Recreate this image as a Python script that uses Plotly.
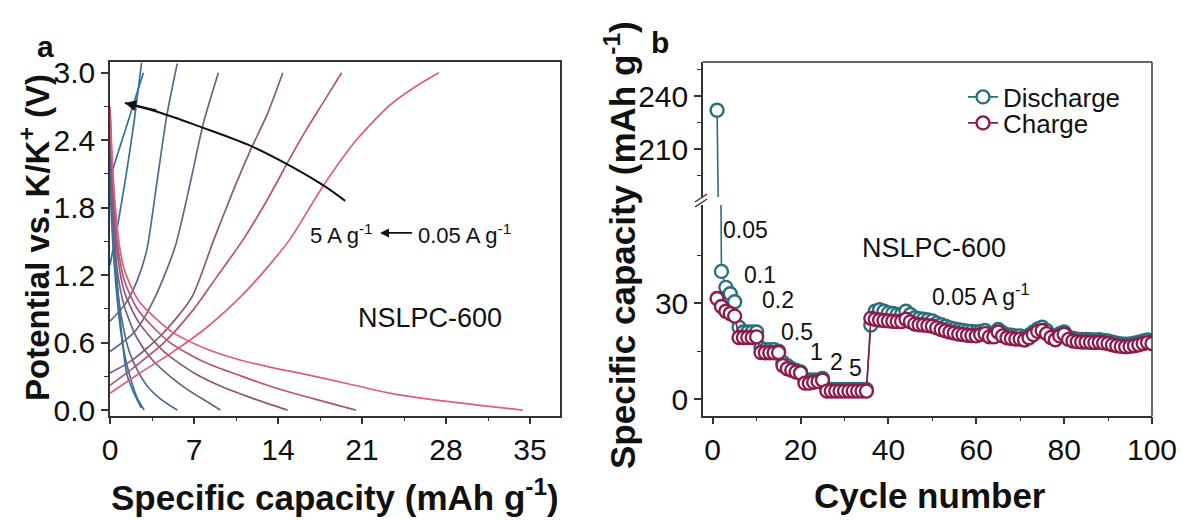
import plotly.graph_objects as go

W, H = 1182, 520
FONT = "Liberation Sans, Arial, sans-serif"

# ---------------- Panel a: charge/discharge profiles ----------------
rates = ["5", "2", "1", "0.5", "0.2", "0.1", "0.05"]
curve_colors = ["#2f72a3", "#3a6f9a", "#4f6c8f", "#6a6482", "#8c5877", "#b65273", "#e05c7d"]

# discharge curves (capacity, potential)
dis_x_5 = [0, 0.3, 0.7, 1.1, 1.4, 2.0, 2.6]
dis_y_5 = [2.05, 1.6, 1.0, 0.55, 0.32, 0.15, 0.02]
dis_x_2 = [0, 0.2, 0.5, 0.9, 1.3, 1.8, 2.3, 2.85]
dis_y_2 = [2.0, 1.55, 1.1, 0.7, 0.45, 0.25, 0.1, 0.0]
dis_x_1 = [0, 0.2, 0.5, 1.0, 1.6, 2.3, 3.2, 4.2, 5.6]
dis_y_1 = [2.3, 1.7, 1.2, 0.8, 0.52, 0.35, 0.2, 0.1, 0.0]
dis_x_05 = [0, 0.25, 0.6, 1.2, 2.2, 3.5, 5.0, 6.5, 8.0, 9.2]
dis_y_05 = [2.6, 1.75, 1.25, 0.92, 0.65, 0.45, 0.3, 0.18, 0.08, 0.0]
dis_x_02 = [0, 0.25, 0.6, 1.2, 2.4, 4.5, 7.0, 9.5, 12.0, 14.8]
dis_y_02 = [2.66, 1.9, 1.4, 1.05, 0.78, 0.52, 0.33, 0.2, 0.1, 0.0]
dis_x_01 = [0, 0.25, 0.6, 1.2, 2.4, 5.0, 8.0, 11.0, 14.0, 17.0, 20.5]
dis_y_01 = [2.68, 2.0, 1.5, 1.15, 0.88, 0.6, 0.42, 0.3, 0.19, 0.1, 0.0]
dis_x_005 = [0, 0.2, 0.45, 0.8, 1.25, 2.4, 5.1, 7.9, 10.7, 13.4, 16.2, 20.0, 23.3, 27.0, 31.0, 34.4]
dis_y_005 = [2.7, 2.2, 1.8, 1.45, 1.23, 0.97, 0.7, 0.55, 0.45, 0.38, 0.32, 0.23, 0.15, 0.09, 0.04, 0.0]

# charge curves
chg_x_5 = [0, 0.7, 1.4, 2.1, 2.78]
chg_y_5 = [2.06, 2.3, 2.53, 2.77, 3.0]
chg_x_2 = [0, 0.7, 1.4, 2.0, 2.63]
chg_y_2 = [1.29, 1.68, 2.13, 2.56, 3.09]
chg_x_1 = [0, 1.25, 2.22, 3.06, 3.89, 4.72, 5.6]
chg_y_1 = [0.79, 0.94, 1.14, 1.42, 2.01, 2.61, 3.08]
chg_x_05 = [0, 2.08, 3.74, 5.42, 6.67, 7.78, 9.03]
chg_y_05 = [0.52, 0.7, 1.0, 1.45, 2.01, 2.55, 3.0]
chg_x_02 = [0, 1.8, 4.3, 6.8, 8.6, 10.3, 11.7, 13.1, 14.4]
chg_y_02 = [0.33, 0.44, 0.67, 1.0, 1.5, 1.96, 2.31, 2.63, 3.0]
chg_x_01 = [0, 2.0, 4.5, 7.0, 9.0, 11.0, 13.0, 15.0, 16.4, 17.8, 19.3]
chg_y_01 = [0.22, 0.38, 0.6, 0.9, 1.2, 1.5, 1.85, 2.24, 2.5, 2.74, 3.0]
chg_x_005 = [0, 2.5, 5.0, 8.0, 11.0, 13.2, 15.0, 17.8, 20.6, 23.3, 25.5, 27.4]
chg_y_005 = [0.15, 0.33, 0.5, 0.73, 1.02, 1.28, 1.52, 2.0, 2.41, 2.71, 2.88, 3.0]

# curved rate arrow (from 0.05 A/g region toward 5 A/g)
arrow_x = [19.6, 17.75, 14.17, 11.5, 7.5, 4.0, 1.25]
arrow_y = [1.86, 2.0, 2.22, 2.36, 2.52, 2.65, 2.73]

# ---------------- Panel b: rate performance ----------------
cycles = list(range(1, 101))
discharge = [232, 40, 35, 33, 30.5, 22.5, 21, 21, 21, 21,
             16, 15.5, 15.5, 15.5, 15, 11.5, 10.5, 9.5, 9, 8.5,
             6, 6, 6, 6, 6.5, 3, 3, 3, 3, 3,
             3, 3, 3, 3, 3, 23.2, 27.5, 28, 27.5, 27,
             26.8, 26.5, 26.5, 27.5, 26.5, 25.5, 25.2, 25, 24.8, 24.5,
             23.8, 23.3, 22.8, 22.3, 22, 21.7, 21.5, 21.3, 21.2, 21,
             21.2, 21.5, 20.5, 20.5, 21.8, 20.8, 20.2, 20, 19.8, 19.8,
             19.5, 20, 21, 22, 22.5, 21.5, 20, 19.5, 20.5, 21,
             19.5, 19, 18.8, 18.7, 18.7, 18.6, 18.5, 18.6, 18.4, 18.2,
             17.8, 17.5, 17.3, 17.2, 17.3, 17.5, 17.8, 18.2, 18.5, 18.2]
charge = [31.5, 29, 27.5, 26.8, 26, 19.3, 19.3, 19.3, 19.3, 19.5,
          14.6, 14.5, 14.5, 14.5, 14.6, 10.5, 9.5, 9, 8.5, 8.2,
          5, 5, 5.3, 5.5, 6, 2.5, 2.5, 2.5, 2.5, 2.5,
          2.5, 2.5, 2.5, 2.5, 2.5, 25.3, 25, 24.8, 24.6, 24.5,
          24.4, 24.3, 24.3, 25, 24.2, 23.5, 23.3, 23.2, 23, 22.8,
          22.3, 21.8, 21.4, 21, 20.7, 20.4, 20.2, 20, 19.9, 19.8,
          20.2, 20.5, 19.5, 19.5, 21, 19.8, 19.2, 19, 18.8, 18.8,
          18.5, 19.2, 20.2, 21.2, 21.5, 20.5, 19.3, 18.6, 19.8, 20.3,
          18.7, 18.2, 18, 17.9, 17.9, 17.8, 17.7, 17.8, 17.6, 17.4,
          17, 16.7, 16.5, 16.4, 16.5, 16.7, 17, 17.4, 17.7, 17.4]

rate_labels = ["0.05", "0.1", "0.2", "0.5", "1", "2", "5"]
rate_label_x = [7.4, 10.8, 14.9, 19.1, 23.7, 28.2, 32.5]
rate_label_y = [53, 38.9, 31, 21.1, 14.8, 11.7, 9.6]

DIS_COLOR = "#2b6f7f"
CHG_COLOR = "#8b1c4e"

# ---------------- layout geometry (pixels -> paper) ----------------
def px(x):
    return x / W

def py(y):
    return 1 - y / H

a_left, a_right, top, bottom = 110, 560, 62, 415.7
b_left, b_right = 703, 1152
low_top, up_bottom = 205, 197

fig = go.Figure()

dis_sets = [(dis_x_5, dis_y_5), (dis_x_2, dis_y_2), (dis_x_1, dis_y_1), (dis_x_05, dis_y_05),
            (dis_x_02, dis_y_02), (dis_x_01, dis_y_01), (dis_x_005, dis_y_005)]
chg_sets = [(chg_x_5, chg_y_5), (chg_x_2, chg_y_2), (chg_x_1, chg_y_1), (chg_x_05, chg_y_05),
            (chg_x_02, chg_y_02), (chg_x_01, chg_y_01), (chg_x_005, chg_y_005)]

for i, r in enumerate(rates):
    for xs, ys in (dis_sets[i], chg_sets[i]):
        fig.add_trace(go.Scatter(x=xs, y=ys, mode="lines", xaxis="x", yaxis="y",
                                 line=dict(color=curve_colors[i], width=1.7, shape="spline", smoothing=0.7),
                                 showlegend=False, hoverinfo="skip", name=r + " A g-1"))

fig.add_trace(go.Scatter(x=arrow_x, y=arrow_y, mode="lines", xaxis="x", yaxis="y",
                         line=dict(color="#111", width=2, shape="spline"), showlegend=False,
                         hoverinfo="skip"))

# panel b traces
for yax, show in (("y2", True), ("y3", False)):
    fig.add_trace(go.Scatter(x=cycles, y=discharge, mode="lines+markers", xaxis="x2", yaxis=yax,
                             name="Discharge", showlegend=show, legend="legend",
                             line=dict(color=DIS_COLOR, width=1.6),
                             marker=dict(symbol="circle", size=13, color="white",
                                         line=dict(color=DIS_COLOR, width=2.4))))
fig.add_trace(go.Scatter(x=cycles, y=charge, mode="lines+markers", xaxis="x2", yaxis="y2",
                         name="Charge", legend="legend2",
                         line=dict(color=CHG_COLOR, width=1.6),
                         marker=dict(symbol="circle", size=13, color="white",
                                     line=dict(color=CHG_COLOR, width=2.4))))

axis_common = dict(showline=True, linecolor="#333", linewidth=1.5, ticks="outside", ticklen=7,
                   tickwidth=1.5, tickcolor="#333", showgrid=False, zeroline=False, automargin=False,
                   tickfont=dict(family=FONT, size=30, color="#111"))
minor_common = dict(ticks="outside", ticklen=4, tickcolor="#333", tickwidth=1.2)
legend_common = dict(xanchor="left", yanchor="middle", bgcolor="rgba(0,0,0,0)",
                     font=dict(family=FONT, size=26, color="#111"), itemwidth=30,
                     borderwidth=0)

fig.update_layout(
    width=W, height=H, autosize=False, margin=dict(l=0, r=0, t=0, b=0, pad=0),
    paper_bgcolor="white", plot_bgcolor="white",
    font=dict(family=FONT, color="#111"),
    xaxis=dict(domain=[px(a_left), px(a_right)], range=[0, 37.5], anchor="y", mirror=True,
               tickvals=[0, 7, 14, 21, 28, 35],
               minor=dict(tickvals=[3.5, 10.5, 17.5, 24.5, 31.5], **minor_common), **axis_common),
    yaxis=dict(domain=[py(bottom), py(top)], range=[-0.05, 3.095], anchor="x", mirror=True,
               tickvals=[0, 0.6, 1.2, 1.8, 2.4, 3.0], ticktext=["0.0", "0.6", "1.2", "1.8", "2.4", "3.0"],
               minor=dict(tickvals=[0.3, 0.9, 1.5, 2.1, 2.7], **minor_common), **axis_common),
    xaxis2=dict(domain=[px(b_left), px(b_right)], range=[-2.2, 100], anchor="y2",
                tickvals=[0, 20, 40, 60, 80, 100],
                minor=dict(tickvals=[10, 30, 50, 70, 90], **minor_common), **axis_common),
    yaxis2=dict(domain=[py(bottom), py(low_top)], range=[-5.2, 60.8], anchor="x2",
                tickvals=[0, 30],
                minor=dict(tickvals=[15, 45], **minor_common), **axis_common),
    yaxis3=dict(domain=[py(up_bottom), py(top)], range=[183, 259.2], anchor="x2",
                tickvals=[210, 240],
                minor=dict(tickvals=[195, 225, 255], **minor_common), **axis_common),
    legend=dict(x=px(963), y=py(97), **legend_common),
    legend2=dict(x=px(963), y=py(123), **legend_common),
)

# frame of panel b (top and right), axis break marks
line_style = dict(color="#333", width=1.5)
fig.add_shape(type="line", xref="paper", yref="paper", x0=px(b_left), x1=px(b_right),
              y0=py(top), y1=py(top), line=line_style)
fig.add_shape(type="line", xref="paper", yref="paper", x0=px(b_right), x1=px(b_right),
              y0=py(bottom), y1=py(top), line=line_style)
for off in (0, 5):
    fig.add_shape(type="line", xref="paper", yref="paper", x0=px(b_left - 8), x1=px(b_left + 4),
                  y0=py(207 - off), y1=py(199 - off), line=dict(color="#333", width=1.3))


def txt(text, x, y, xref="paper", yref="paper", size=22, angle=0):
    return dict(text=text, x=x, y=y, xref=xref, yref=yref, showarrow=False, textangle=angle,
                xanchor="center", yanchor="middle", font=dict(family=FONT, size=size, color="#111"))


ann = []
# panel labels
ann.append(txt("<b>a</b>", px(45), py(46), size=30))
ann.append(txt("<b>b</b>", px(660), py(42), size=30))
# axis titles
ann.append(txt("<b>Potential vs. K/K<sup>+</sup> (V)</b>", px(35), py(238), size=33, angle=-90))
ann.append(txt("<b>Specific capacity (mAh g<sup>-1</sup>)</b>", px(335), py(495), size=35))
ann.append(txt("<b>Specific capacity (mAh g<sup>-1</sup>)</b>", px(620), py(245), size=35, angle=-90))
ann.append(txt("<b>Cycle number</b>", px(930), py(495), size=35))
# panel a texts
ann.append(txt("NSLPC-600", 26.7, 0.82, "x", "y", size=27))
ann.append(txt("5 A g<sup>-1</sup>", 19.3, 1.57, "x", "y", size=22))
ann.append(txt("0.05 A g<sup>-1</sup>", 29.5, 1.57, "x", "y", size=22))
ann.append(dict(text="", x=22.5, y=1.575, ax=25.3, ay=1.575, xref="x", yref="y", axref="x", ayref="y",
                showarrow=True, arrowhead=2, arrowsize=1, arrowwidth=1.8, arrowcolor="#111"))
ann.append(dict(text="", x=arrow_x[-1], y=arrow_y[-1], ax=arrow_x[-2], ay=arrow_y[-2] + 0.01,
                xref="x", yref="y", axref="x", ayref="y", showarrow=True, arrowhead=2,
                arrowsize=1.1, arrowwidth=2, arrowcolor="#111"))
# panel b texts
for t, xv, yv in zip(rate_labels, rate_label_x, rate_label_y):
    ann.append(txt(t, xv, yv, "x2", "y2", size=23))
ann.append(txt("0.05 A g<sup>-1</sup>", 61, 32.6, "x2", "y2", size=23))
ann.append(txt("NSLPC-600", 50.3, 47.3, "x2", "y2", size=27))
fig.update_layout(annotations=ann)

fig.write_html("out.html", config={"displayModeBar": False},
               post_script="document.body.style.margin='0px';document.body.style.overflow='hidden';")
